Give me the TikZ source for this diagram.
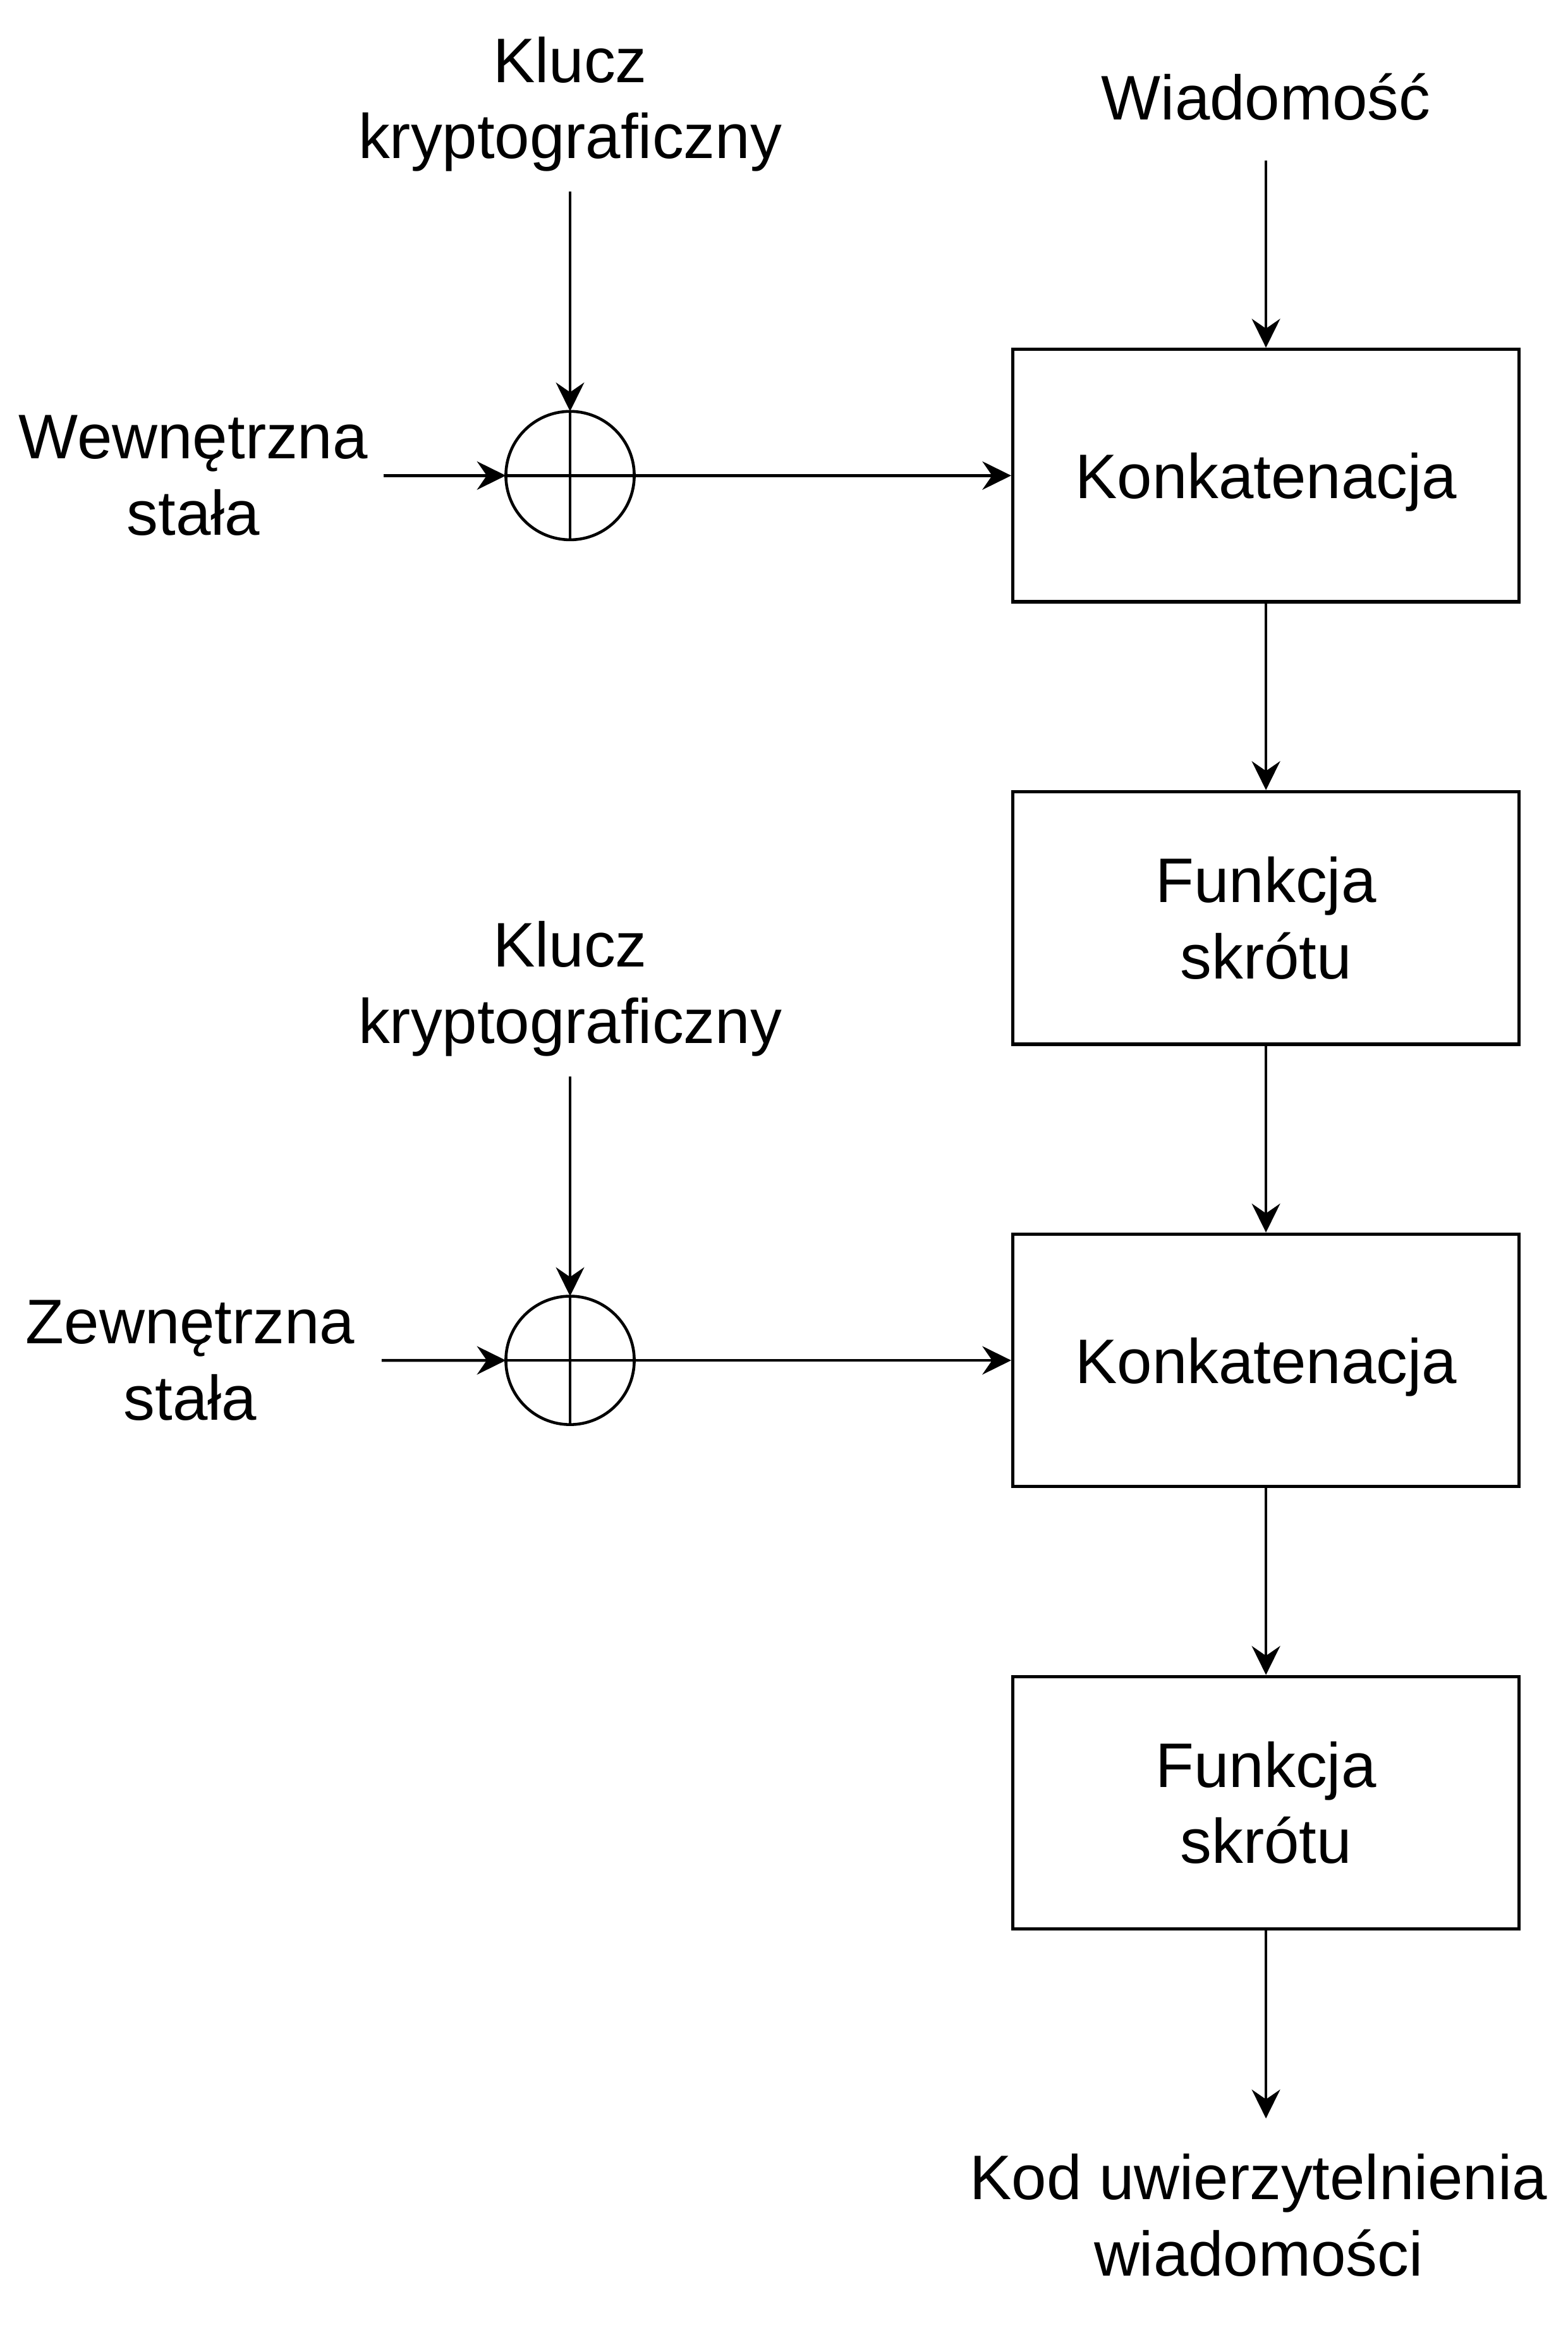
\documentclass[tikz,border=0pt]{standalone}
\usepackage{fontspec}
\setmainfont{Liberation Sans}
\usetikzlibrary{positioning, arrows.meta}

\begin{document}
\begin{tikzpicture}[
  node distance=2.5cm,
  txt/.style={font=\fontsize{24}{29}\selectfont, align=center},
  box/.style={rectangle, draw, line width=1.3pt, txt,
              minimum width=6.78cm, minimum height=3.38cm},
  xorc/.style={circle, draw, line width=1.1pt, minimum size=1.72cm,
               inner sep=0pt, outer sep=0pt,
               path picture={\draw[line width=1.1pt]
                 (path picture bounding box.north) -- (path picture bounding box.south)
                 (path picture bounding box.west) -- (path picture bounding box.east);}},
  lbl/.style={txt, inner sep=0pt},
  arr/.style={-{Stealth[length=11pt, width=10.8pt, inset=3.7pt]}, line width=1.1pt}
]
  \useasboundingbox (0,0) rectangle (21,-31.37);

  % Right column
  \node[box, text depth=0pt] (konk1) at (16.96,-6.37) {Konkatenacja};
  \node[box, below=of konk1]  (skrot1) {Funkcja\\skrótu};
  \node[box, below=of skrot1, text depth=0pt] (konk2) {Konkatenacja};
  \node[box, below=of konk2]  (skrot2) {Funkcja\\skrótu};

  % XOR nodes
  \node[xorc, left=5.05cm of konk1] (x1) {};
  \node[xorc, left=5.05cm of konk2] (x2) {};

  % Inputs and output
  \node[lbl, above=2.944cm of x1, outer ysep=0.27cm] (klucz1) {Klucz\\kryptograficzny};
  \node[lbl, above=2.944cm of x2, outer ysep=0.27cm] (klucz2) {Klucz\\kryptograficzny};
  \node[lbl, anchor=base, outer ysep=0.536cm] (wiad) at (16.96,-1.604) {Wiadomość};
  \node[lbl, outer xsep=0.21cm] (wew) at (2.59,-6.37)   {Wewnętrzna\\stała};
  \node[lbl, outer xsep=0.36cm] (zew) at (2.55,-18.222) {Zewnętrzna\\stała};
  \node[lbl, outer ysep=0.475cm] (kod) at (16.86,-29.67) {Kod uwierzytelnienia\\wiadomości};

  % Arrows
  \draw[arr] (klucz1) -- (x1);
  \draw[arr] (wew) -- (x1);
  \draw[arr] (x1) -- (konk1);
  \draw[arr] (wiad) -- (konk1);
  \draw[arr] (konk1) -- (skrot1);
  \draw[arr] (skrot1) -- (konk2);
  \draw[arr] (klucz2) -- (x2);
  \draw[arr] (zew) -- (x2);
  \draw[arr] (x2) -- (konk2);
  \draw[arr] (konk2) -- (skrot2);
  \draw[arr] (skrot2) -- (skrot2 |- kod.north);
\end{tikzpicture}
\end{document}
